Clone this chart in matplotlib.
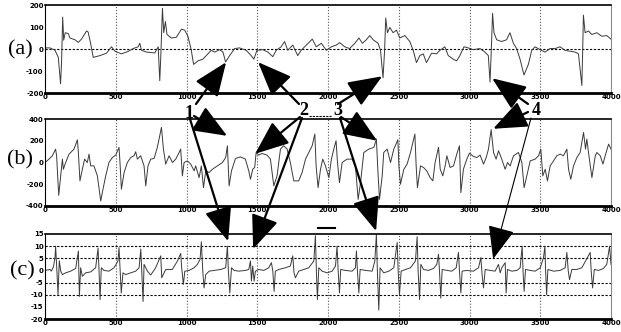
import numpy as np
import matplotlib
matplotlib.use("Agg")
import matplotlib.pyplot as plt
from matplotlib.patches import ConnectionPatch
from matplotlib.lines import Line2D

plt.rcParams['axes.unicode_minus'] = False

# (a) signal, (sample, value)
sig_a = [(0, 5), (35, 5), (70, -5), (94, -38), (110, -158), (117, -60), (125, 145), (132, 40),
         (143, 74), (165, 70), (176, 50), (212, 42), (235, 30), (258, 45), (294, 82), (305, 77),
         (322, 26), (341, -38), (388, -30), (435, -19), (470, 10), (494, -10), (540, -22),
         (588, -11), (623, 2), (658, 10), (670, 26), (682, -6), (717, -14), (776, -18), (800, 10),
         (811, -144), (818, -40), (830, 185), (839, 74), (851, 125), (862, 66), (893, 50),
         (928, 53), (964, 90), (987, 86), (1010, 58), (1034, -6), (1050, -70), (1081, -54),
         (1116, -46), (1152, -22), (1175, -6), (1199, -14), (1234, -3), (1258, -14), (1276, -59),
         (1305, -30), (1340, 2), (1375, 5), (1422, -6), (1457, -30), (1476, -46), (1498, -6),
         (1540, -3), (1575, -14), (1610, -35), (1634, -6), (1669, 10), (1693, 34), (1716, -6),
         (1751, 18), (1786, -30), (1810, -6), (1847, 18), (1889, 45), (1917, 10), (1953, 26),
         (1988, -6), (2024, 10), (2059, 18), (2083, 29), (2118, 10), (2153, 2), (2189, 26),
         (2219, 50), (2243, 26), (2271, 42), (2295, 61), (2319, 42), (2354, 26), (2371, -6),
         (2389, -131), (2400, -6), (2408, 141), (2420, 74), (2437, 98), (2460, 74), (2484, 86),
         (2507, 50), (2543, 61), (2578, 34), (2602, -6), (2625, -62), (2649, -30), (2673, -22),
         (2696, -62), (2732, -19), (2767, -22), (2791, -6), (2826, 10), (2850, -30), (2885, -46),
         (2909, -54), (2932, -30), (2961, 10), (2991, 5), (3027, -3), (3074, 2), (3109, -14),
         (3133, -30), (3145, -150), (3154, -6), (3163, 162), (3173, 74), (3192, 42), (3227, 34),
         (3262, 42), (3286, 74), (3310, 26), (3333, 2), (3357, -46), (3385, -118), (3416, -70),
         (3440, -6), (3463, 10), (3499, -3), (3534, -14), (3569, 2), (3605, 2), (3640, 10),
         (3675, -6), (3711, -10), (3746, -14), (3770, -22), (3794, -166), (3800, -6), (3805, 154),
         (3817, 74), (3841, 82), (3864, 66), (3900, 74), (3935, 58), (3970, 61), (4000, 45)]

# (b) signal
sig_b = [(0, 0), (28, 31), (52, 62), (75, 123), (82, 62), (97, -302), (111, -123), (123, 31),
         (130, -62), (146, 0), (170, 77), (205, 123), (229, 209), (236, 90), (247, -169),
         (264, -62), (280, 31), (299, 0), (311, 77), (323, -31), (346, -31), (370, -123),
         (394, -354), (405, -277), (429, -123), (452, 0), (476, 46), (500, 68), (523, 139),
         (530, 0), (540, -246), (559, -92), (582, 0), (606, 46), (629, 62), (641, 99), (653, 31),
         (676, 62), (700, -31), (712, -215), (728, -31), (747, 31), (771, 37), (794, 139),
         (823, 323), (837, 123), (853, -15), (877, 62), (901, 0), (924, 31), (948, 92), (959, 123),
         (971, -123), (983, 0), (1006, 15), (1030, -15), (1054, -77), (1065, -31), (1089, -139),
         (1105, -31), (1120, -231), (1136, -77), (1160, -92), (1183, -62), (1219, -31), (1254, 0),
         (1277, 46), (1289, 154), (1301, -215), (1318, -77), (1346, 37), (1381, 52), (1416, 31),
         (1440, -77), (1452, -154), (1468, -62), (1482, -46), (1492, 92), (1510, 68), (1534, 83),
         (1569, 68), (1593, 31), (1617, -215), (1640, -123), (1664, 123), (1687, 154), (1711, 123),
         (1734, 0), (1758, -169), (1793, -169), (1817, -92), (1841, 31), (1864, 92), (1888, 154),
         (1907, 262), (1916, -31), (1930, -231), (1947, -62), (1963, 31), (1982, -31), (2006, -139),
         (2024, 31), (2041, 123), (2057, 200), (2067, 0), (2081, -185), (2100, 0), (2135, 31),
         (2170, 31), (2194, -31), (2213, -339), (2230, -185), (2253, 92), (2288, 123), (2324, 139),
         (2342, 216), (2352, -62), (2364, -339), (2383, -123), (2394, 92), (2418, 123), (2442, 0),
         (2465, 123), (2494, 209), (2501, -31), (2512, -200), (2536, -62), (2559, -15), (2583, 92),
         (2614, 262), (2623, -31), (2632, -231), (2654, -31), (2675, -46), (2698, -77), (2722, -139),
         (2741, -169), (2757, 0), (2781, 139), (2793, -62), (2811, -123), (2828, -31), (2840, 62),
         (2863, -46), (2887, -31), (2910, 77), (2929, 154), (2939, -277), (2957, -62), (2981, 31),
         (3000, 86), (3028, 55), (3052, 46), (3075, 68), (3099, -15), (3118, 46), (3134, 123),
         (3153, 302), (3170, 92), (3188, 31), (3205, 108), (3228, 31), (3252, -62), (3269, 0),
         (3287, -31), (3311, 62), (3346, 92), (3370, 0), (3386, -231), (3405, -123), (3429, 15),
         (3464, 31), (3488, 62), (3504, 123), (3518, -123), (3535, -62), (3551, -169), (3570, -31),
         (3594, 15), (3617, 62), (3641, 77), (3664, 62), (3688, 123), (3700, -62), (3716, -154),
         (3735, -31), (3759, 46), (3782, 92), (3806, 277), (3820, 123), (3829, 216), (3841, 92),
         (3865, -139), (3889, 62), (3900, 92), (3924, 62), (3943, -15), (3959, 62), (3983, 169),
         (4000, 123)]

# (c) signal
sig_c = [(0, 0), (35, 0.4), (45, -0.3), (59, 1.4), (71, 5.3), (75, 10), (83, 1.1), (92, -10),
         (101, 4), (111, -0.3), (123, -1.7), (146, -1), (181, -0.3), (217, 0.8), (229, 5.3),
         (236, 8), (243, -10.7), (252, 1.1), (264, -2.4), (287, -1), (323, -0.6), (358, 1.1),
         (375, 9.2), (382, -0.3), (389, -12), (398, 1.1), (417, 0), (452, -0.3), (488, 1.1),
         (516, 3.9), (523, 9.4), (530, 1.1), (539, -9.3), (551, -1), (570, -1.7), (606, -1),
         (641, -0.3), (665, 1.1), (677, 8.8), (684, -0.3), (693, -12.8), (700, 2.5), (724, -0.3),
         (747, -1.9), (782, 1.1), (818, 6), (825, -3), (853, 0.4), (900, 0.4), (936, 3.9),
         (959, 7), (966, 1.1), (978, -5.8), (988, -0.3), (1018, 0), (1054, 1.1), (1077, 2.5),
         (1096, 4.6), (1105, 11.8), (1115, -0.3), (1124, -7.2), (1136, -1.7), (1160, -0.3),
         (1195, 0), (1242, 0.4), (1277, 1.1), (1289, 10), (1296, -0.3), (1306, -9.3), (1318, 1.1),
         (1336, 0), (1369, -0.3), (1416, 0), (1440, 0.4), (1452, 3.9), (1459, -4.4), (1468, 1.8),
         (1478, -4.4), (1487, -0.3), (1511, 0.4), (1546, 0), (1581, 1.1), (1600, 3.2), (1610, -0.3),
         (1619, -8.6), (1628, -0.3), (1652, 0.4), (1699, 1.1), (1734, 1.8), (1751, 6), (1760, -1),
         (1770, -3), (1793, -0.3), (1829, 0.4), (1864, 1.1), (1900, 3.9), (1911, 14.3),
         (1918, -0.3), (1925, -12), (1935, 1.1), (1958, -0.3), (1994, -1), (2029, -0.3),
         (2053, 1.8), (2064, 10), (2072, -0.3), (2081, -9.3), (2090, 0.4), (2123, 0), (2170, -0.3),
         (2194, 1.1), (2201, 8), (2208, -0.3), (2218, -9.3), (2227, 0.4), (2265, 0), (2312, -0.3),
         (2331, 3.9), (2342, 15), (2349, -0.3), (2359, -16.3), (2368, 1.1), (2394, -1),
         (2430, -0.3), (2465, 1.1), (2489, 11.5), (2496, -0.3), (2505, -10), (2517, -0.3),
         (2548, 0.4), (2583, 1.1), (2618, 3.9), (2630, 13.9), (2637, -0.3), (2647, -12),
         (2656, 2.5), (2675, 0.4), (2710, 0), (2745, 0.8), (2769, 2.5), (2781, 6.7), (2788, -0.3),
         (2797, -11.4), (2807, 0.4), (2840, 0), (2875, -0.3), (2906, 1.1), (2922, 7.4),
         (2929, -0.3), (2939, -9.3), (2948, -0.3), (2981, 0), (3028, -0.3), (3064, 1.1),
         (3080, 5.3), (3089, -1.7), (3099, -7.2), (3111, 0.4), (3146, 0), (3181, -0.3),
         (3205, 2.5), (3217, -1), (3228, 1.1), (3252, 3.2), (3259, -9.3), (3268, 0.4),
         (3299, -0.3), (3335, 0), (3358, 1.1), (3372, 10), (3379, -1), (3386, -8.6), (3396, 0.4),
         (3429, 0), (3464, -0.3), (3500, 1.1), (3523, 5.3), (3533, 10), (3538, -0.3), (3545, -10),
         (3554, 0.4), (3594, -0.3), (3641, 0), (3676, 1.1), (3688, 7.4), (3698, -0.3),
         (3707, -3.8), (3723, 0.4), (3758, 0.4), (3794, 1.1), (3853, 7.4), (3860, -0.3),
         (3870, -7.2), (3882, 0.4), (3912, 0), (3947, 0.8), (3970, 2.5), (3990, 10), (4000, 2.5)]

x_ticks = [0, 500, 1000, 1500, 2000, 2500, 3000, 3500, 4000]
a_yticks = [-200, -100, 0, 100, 200]
b_yticks = [-400, -200, 0, 200, 400]
c_yticks = [-20, -15, -10, -5, 0, 5, 10, 15]
panel_labels = ["(a)", "(b)", "(c)"]

# arrow targets per label number: (panel index, x, y)
arrow_targets = {
    "1": [(0, 1280, -60), (1, 1287, 245), (2, 1294, 12)],
    "2": [(0, 1506, -60), (1, 1485, 80), (2, 1471, 8.8)],
    "3": [(0, 2383, -124), (1, 2347, 200), (2, 2340, 16.2)],
    "4": [(0, 3160, -133), (1, 3167, 310), (2, 3167, 4.7)],
}

W, H = 621, 332
fig = plt.figure(figsize=(W / 100, H / 100), dpi=100)

def px(x, y):
    return (x / W, 1 - y / H)

# axes boxes in pixels (left, top, right, bottom)
boxes = [(45, 5, 611, 93), (45, 119, 611, 206), (45, 234, 611, 319)]
axs = []
for (l, t, r, b) in boxes:
    ax = fig.add_axes([l / W, 1 - b / H, (r - l) / W, (b - t) / H])
    ax.patch.set_alpha(0)
    axs.append(ax)

sigs = [sig_a, sig_b, sig_c]
ylims = [(-200, 200), (-400, 400), (-20, 15)]
yticks = [a_yticks, b_yticks, c_yticks]
hlines = [[0], [], [-10, -5, 5, 10]]

for ax, sig, yl, yt, hl in zip(axs, sigs, ylims, yticks, hlines):
    xs = [p[0] for p in sig]
    ys = [p[1] for p in sig]
    ax.plot(xs, ys, color="#3a3a3a", lw=0.7)
    ax.set_xlim(0, 4000)
    ax.set_ylim(*yl)
    ax.set_xticks(x_ticks)
    ax.set_yticks(yt)
    for v in x_ticks[1:-1]:
        ax.axvline(v, color="#555555", ls=":", lw=0.8, zorder=0)
    for v in hl:
        ax.axhline(v, color="k", ls=(0, (2, 1.5)), lw=0.8, zorder=0)
    ax.tick_params(length=0, labelsize=5, pad=1)
    for lab in ax.get_xticklabels() + ax.get_yticklabels():
        lab.set_fontweight("bold")
    ax.spines["bottom"].set_linewidth(2)
    ax.spines["top"].set_linewidth(1.2)
    ax.spines["left"].set_linewidth(0.8)
    ax.spines["right"].set_color("#888888")
    ax.spines["right"].set_linewidth(0.8)

label_pos = [(20, 50), (20, 160), (22, 271)]
for lab, (x, y) in zip(panel_labels, label_pos):
    fig.text(*px(x, y), lab, fontsize=16, family="Liberation Serif", ha="center", va="center")

num_pos = {"1": (189, 113), "2": (304, 111), "3": (338, 111), "4": (536, 111)}
# tails of arrows (pixels), per number and panel
tails = {
    "1": [(196, 104), (194, 116), (190, 119)],
    "2": [(299, 104), (300, 117), (302, 118)],
    "3": [(338, 104), (341, 117), (340, 118)],
    "4": [(528, 104), (528, 112), (531, 118)],
}
for num, (x, y) in num_pos.items():
    fig.text(*px(x, y), num, fontsize=13, fontweight="bold", family="Liberation Serif",
             ha="center", va="center")
    for (pi, tx, ty), (sx, sy) in zip(arrow_targets[num], tails[num]):
        thin = (num == "4" and pi == 2)
        con = ConnectionPatch(xyA=px(sx, sy), coordsA=fig.transFigure,
                              xyB=(tx, ty), coordsB=axs[pi].transData,
                              arrowstyle="-|>,head_length=2.1,head_width=0.85",
                              mutation_scale=10, lw=0.8 if thin else 1.6, color="k",
                              shrinkA=0, shrinkB=0, zorder=10)
        fig.add_artist(con)

# underline between 2 and 3, small bar above (c)
fig.add_artist(Line2D([309 / W, 331 / W], [1 - 116 / H, 1 - 116 / H], color="k", lw=0.8,
                      ls=(0, (2, 1))))
fig.add_artist(Line2D([318 / W, 335 / W], [1 - 228 / H, 1 - 228 / H], color="k", lw=1.5))

fig.savefig("out.png", dpi=100)
